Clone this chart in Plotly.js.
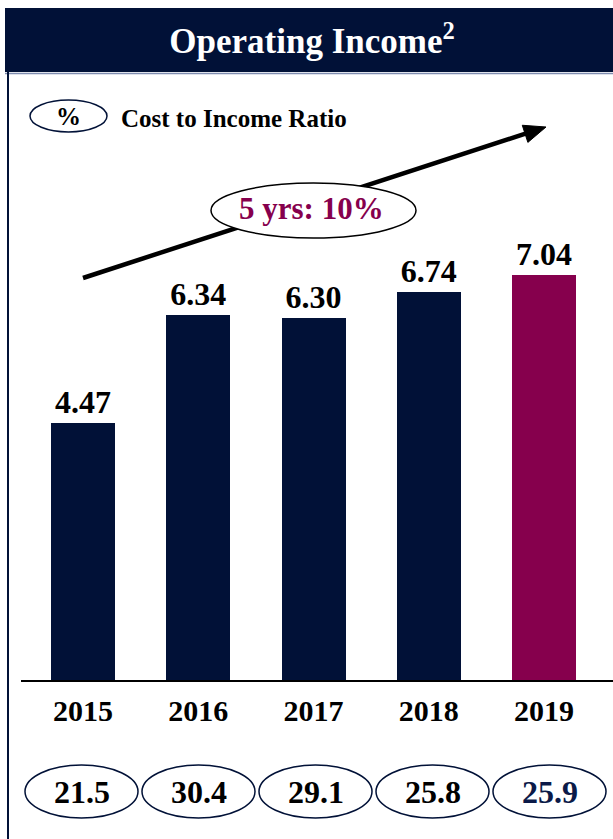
<!DOCTYPE html>
<html>
<head>
<meta charset="utf-8">
<script src="https://cdn.plot.ly/plotly-3.0.1.min.js"></script>
<style>html,body{margin:0;padding:0;background:#fff;}#chart{width:613px;height:839px;}</style>
</head>
<body>
<div id="chart"></div>
<script>
// ---- data ----
const years = ["2015", "2016", "2017", "2018", "2019"];
const operatingIncome = [4.47, 6.34, 6.30, 6.74, 7.04];
const costIncomeRatio = [21.5, 30.4, 29.1, 25.8, 25.9];
const cagrLabel = "5 yrs: 10%";
const legendLabel = "Cost to Income Ratio";

// ---- styling ----
const NAVY = "#011137";
const MAROON = "#86004D";
const SERIF = "Liberation Serif, Times New Roman, serif";
const W = 613, H = 839;
const L = 21, R = 0, T = 80, B = 159;
const plotW = W - L - R, plotH = H - T - B;
const px = x => (x - L) / plotW;
const py = y => (H - B - y) / plotH;

const barColors = years.map((_, i) => i === years.length - 1 ? MAROON : NAVY);

const shapes = [];
const annotations = [];

// title bar
shapes.push({type: "rect", xref: "paper", yref: "paper", x0: px(5), x1: px(613), y0: py(8), y1: py(72),
  fillcolor: NAVY, line: {width: 0}, layer: "below"});
shapes.push({type: "line", xref: "paper", yref: "paper", x0: px(5), x1: px(613), y0: py(73.5), y1: py(73.5),
  line: {color: "#7f8db0", width: 1.5}, layer: "below"});
// left frame line
shapes.push({type: "line", xref: "paper", yref: "paper", x0: px(8), x1: px(8), y0: py(72), y1: py(839),
  line: {color: NAVY, width: 2}});

// legend ellipse
shapes.push({type: "circle", xref: "paper", yref: "paper", x0: px(30), x1: px(107), y0: py(100), y1: py(132),
  line: {color: NAVY, width: 1.5}, fillcolor: "rgba(0,0,0,0)"});
annotations.push({xref: "paper", yref: "paper", x: px(68.5), y: py(116), text: "%", showarrow: false,
  font: {family: SERIF, size: 25, color: "#000", weight: "bold"}, xanchor: "center", yanchor: "middle"});
annotations.push({xref: "paper", yref: "paper", x: px(119), y: py(118), text: legendLabel, showarrow: false,
  font: {family: SERIF, size: 25, color: "#000", weight: "bold"}, xanchor: "left", yanchor: "middle"});

// trend arrow: line then triangular head
const tail = [83, 278], head = [546, 127];
const dx = head[0] - tail[0], dy = head[1] - tail[1], len = Math.hypot(dx, dy);
const ux = dx / len, uy = dy / len, nx = -uy, ny = ux;
const headLen = 22, headHalf = 9;
const bx = head[0] - ux * headLen, by = head[1] - uy * headLen;
shapes.push({type: "line", xref: "paper", yref: "paper", x0: px(tail[0]), y0: py(tail[1]), x1: px(bx + ux * 2), y1: py(by + uy * 2),
  line: {color: "#000", width: 4.5}});
const pts = [[head[0], head[1]], [bx + nx * headHalf, by + ny * headHalf], [bx - nx * headHalf, by - ny * headHalf]];
shapes.push({type: "path", xref: "paper", yref: "paper",
  path: "M" + pts.map(p => px(p[0]) + "," + py(p[1])).join(" L") + " Z",
  fillcolor: "#000", line: {color: "#000", width: 1}});
// CAGR ellipse
shapes.push({type: "circle", xref: "paper", yref: "paper", x0: px(211), x1: px(416), y0: py(183), y1: py(238),
  line: {color: "#000", width: 1.5}, fillcolor: "#fff"});
annotations.push({xref: "paper", yref: "paper", x: px(311), y: py(209), text: cagrLabel, showarrow: false,
  font: {family: SERIF, size: 31, color: MAROON, weight: "bold"}, xanchor: "center", yanchor: "middle"});

// cost-to-income ellipses
costIncomeRatio.forEach((v, i) => {
  const cx = 81.5 + 117 * i;
  shapes.push({type: "circle", xref: "paper", yref: "paper", x0: px(cx - 56.5), x1: px(cx + 56.5), y0: py(765), y1: py(818),
    line: {color: NAVY, width: 1.5}, fillcolor: "rgba(0,0,0,0)"});
  annotations.push({xref: "paper", yref: "paper", x: px(cx), y: py(792), text: v.toFixed(1), showarrow: false,
    font: {family: SERIF, size: 32, color: i === costIncomeRatio.length - 1 ? "#0b1a48" : "#000", weight: "bold"},
    xanchor: "center", yanchor: "middle"});
});

const trace = {
  type: "bar",
  x: years,
  y: operatingIncome,
  marker: {color: barColors, line: {width: 0}},
  width: 0.555,
  text: operatingIncome.map(v => v.toFixed(2)),
  textposition: "outside",
  textfont: {family: SERIF, size: 32, color: "#000", weight: "bold"},
  cliponaxis: false,
  hoverinfo: "skip"
};

const layout = {
  width: W, height: H,
  margin: {l: L, r: R, t: T, b: B, pad: 0},
  paper_bgcolor: "#fff", plot_bgcolor: "#fff",
  showlegend: false,
  title: {text: "Operating Income<sup>2</sup>", font: {family: SERIF, size: 35, color: "#fff", weight: "bold"},
    x: 312 / W, xanchor: "center", y: 1 - 41 / H, yanchor: "middle", xref: "container", yref: "container"},
  xaxis: {type: "category", range: [-0.538, 4.598], showline: true, linecolor: "#000", linewidth: 2,
    ticks: "", showgrid: false, zeroline: false, fixedrange: true,
    tickfont: {family: SERIF, size: 30, color: "#000", weight: "bold"}, ticklabelstandoff: 3},
  yaxis: {range: [0, plotH / 57.5], visible: false, showgrid: false, zeroline: false, fixedrange: true},
  shapes: shapes,
  annotations: annotations,
  bargap: 0
};

Plotly.newPlot("chart", [trace], layout, {displayModeBar: false, staticPlot: true});
</script>
</body>
</html>
